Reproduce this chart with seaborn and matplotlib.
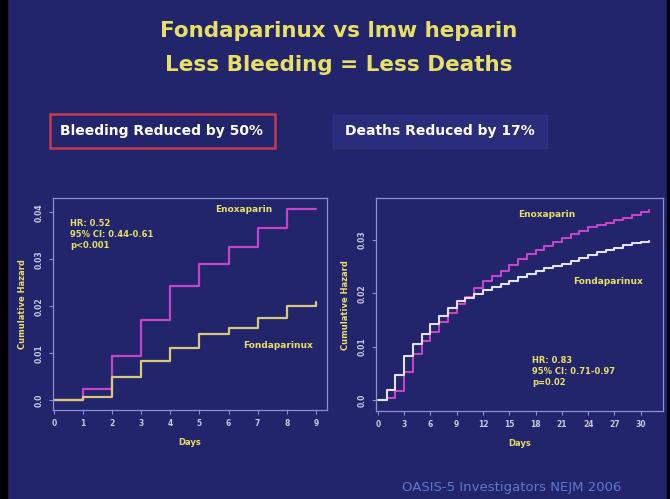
import numpy as np
import pandas as pd
import seaborn as sns
import matplotlib.pyplot as plt
from matplotlib.patches import Rectangle

# bleeding (left panel), daily steps
bleed_days = [0, 1, 2, 3, 4, 5, 6, 7, 8, 9]
bleed_enox = [0.0, 0.0025, 0.0095, 0.017, 0.0243, 0.029, 0.0325, 0.0366, 0.0406, 0.0406]
bleed_fonda = [0.0, 0.0007, 0.005, 0.0084, 0.0112, 0.014, 0.0154, 0.0175, 0.020, 0.021]

# deaths (right panel), daily steps
death_days = list(range(0, 32))
death_enox = [0.0, 0.0003, 0.0017, 0.0053, 0.0087, 0.011, 0.0128, 0.0146, 0.0164, 0.018, 0.0194,
              0.021, 0.0224, 0.0233, 0.0242, 0.0253, 0.0264, 0.0275, 0.0282, 0.029, 0.0297,
              0.0305, 0.0312, 0.0318, 0.0324, 0.0328, 0.0333, 0.0337, 0.0342, 0.0347, 0.0353, 0.0356]
death_fonda = [0.0, 0.0018, 0.0047, 0.0083, 0.0106, 0.0124, 0.0142, 0.0158, 0.0173, 0.0185, 0.0191,
               0.0199, 0.0206, 0.0212, 0.0218, 0.0224, 0.023, 0.0236, 0.0242, 0.0247, 0.0252,
               0.0256, 0.0261, 0.0267, 0.0273, 0.0277, 0.0282, 0.0286, 0.0291, 0.0294, 0.0296, 0.0298]

bleed_xticks = list(range(0, 10))
bleed_yticks = [0.0, 0.01, 0.02, 0.03, 0.04]
bleed_ylabels = ["0.0", "0.01", "0.02", "0.03", "0.04"]
death_xticks = list(range(0, 31, 3))
death_yticks = [0.0, 0.01, 0.02, 0.03]
death_ylabels = ["0.0", "0.01", "0.02", "0.03"]

BG = "#22246c"
SPINE = "#8c8fd6"
TICKTXT = "#c8c8e0"
YELLOW = "#e8e064"
MAGENTA = "#c445c8"

sns.set_style("dark")
plt.rcParams["font.family"] = ["DejaVu Sans"]

fig = plt.figure(figsize=(6.7, 4.99), dpi=100)
fig.patch.set_facecolor(BG)

# black border strips at left/right edges
fig.patches.append(Rectangle((0, 0), 7 / 670, 1, transform=fig.transFigure, color="black", zorder=0))
fig.patches.append(Rectangle((667 / 670, 0), 3 / 670, 1, transform=fig.transFigure, color="black", zorder=0))


def style_ax(ax):
    ax.set_facecolor(BG)
    ax.grid(False)
    for s in ax.spines.values():
        s.set_visible(True)
        s.set_color(SPINE)
        s.set_linewidth(0.9)
    ax.tick_params(axis="both", colors=SPINE, labelcolor=TICKTXT, labelsize=5.5,
                   length=3, width=0.8, direction="out", bottom=True, left=True)
    for lab in ax.get_yticklabels():
        lab.set_rotation(90)
        lab.set_va("center")
        lab.set_fontweight("bold")
    for lab in ax.get_xticklabels():
        lab.set_fontweight("bold")
    ax.set_xlabel("Days", color=YELLOW, fontsize=6, fontweight="bold", labelpad=7)
    ax.set_ylabel("Cumulative Hazard", color=YELLOW, fontsize=6, fontweight="bold", labelpad=6)


# left panel
bleed = pd.DataFrame({
    "day": bleed_days * 2,
    "hazard": bleed_enox + bleed_fonda,
    "drug": ["Enoxaparin"] * len(bleed_days) + ["Fondaparinux"] * len(bleed_days),
})
ax1 = fig.add_axes([0.079, 0.178, 0.409, 0.425])
sns.lineplot(data=bleed, x="day", y="hazard", hue="drug", ax=ax1, legend=False,
             palette={"Enoxaparin": MAGENTA, "Fondaparinux": "#d8c878"},
             drawstyle="steps-post", linewidth=1.6)
ax1.set_xlim(-0.03, 9.38)
ax1.set_ylim(-0.0021, 0.043)
ax1.set_xticks(bleed_xticks)
ax1.set_yticks(bleed_yticks)
ax1.set_yticklabels(bleed_ylabels)
style_ax(ax1)
ax1.text(0.55, 0.0385, "HR: 0.52\n95% CI: 0.44-0.61\np<0.001", color=YELLOW, fontsize=6,
         fontweight="bold", va="top", ha="left", linespacing=1.3)
ax1.text(5.55, 0.0405, "Enoxaparin", color=YELLOW, fontsize=6.5, fontweight="bold", va="center")
ax1.text(6.5, 0.0117, "Fondaparinux", color=YELLOW, fontsize=6.5, fontweight="bold", va="center")

# right panel
death = pd.DataFrame({
    "day": death_days * 2,
    "hazard": death_enox + death_fonda,
    "drug": ["Enoxaparin"] * len(death_days) + ["Fondaparinux"] * len(death_days),
})
ax2 = fig.add_axes([0.561, 0.176, 0.428, 0.427])
sns.lineplot(data=death, x="day", y="hazard", hue="drug", ax=ax2, legend=False,
             palette={"Enoxaparin": MAGENTA, "Fondaparinux": "#e4e2f8"},
             drawstyle="steps-post", linewidth=1.5)
ax2.set_xlim(-0.23, 32.5)
ax2.set_ylim(-0.0021, 0.0379)
ax2.set_xticks(death_xticks)
ax2.set_yticks(death_yticks)
ax2.set_yticklabels(death_ylabels)
style_ax(ax2)
ax2.text(16.0, 0.0349, "Enoxaparin", color=YELLOW, fontsize=6.5, fontweight="bold", va="center")
ax2.text(22.3, 0.0222, "Fondaparinux", color=YELLOW, fontsize=6.5, fontweight="bold", va="center")
ax2.text(17.6, 0.0083, "HR: 0.83\n95% CI: 0.71-0.97\np=0.02", color=YELLOW, fontsize=6,
         fontweight="bold", va="top", ha="left", linespacing=1.3)

# titles
fig.text(0.505, 1 - 31 / 499, "Fondaparinux vs lmw heparin", color=YELLOW, fontsize=15.5,
         fontweight="bold", ha="center", va="center")
fig.text(0.505, 1 - 65 / 499, "Less Bleeding = Less Deaths", color=YELLOW, fontsize=15.5,
         fontweight="bold", ha="center", va="center")

# subtitle boxes
fig.patches.append(Rectangle((50 / 670, 1 - 148 / 499), 225 / 670, 34 / 499, transform=fig.transFigure,
                             facecolor=BG, edgecolor="#c83a4c", linewidth=1.8))
fig.text(162 / 670, 1 - 131 / 499, "Bleeding Reduced by 50%", color="white", fontsize=10,
         fontweight="bold", ha="center", va="center")
fig.patches.append(Rectangle((333 / 670, 1 - 148 / 499), 214 / 670, 33 / 499, transform=fig.transFigure,
                             facecolor="#2a2d7c", edgecolor="#2e3180", linewidth=1))
fig.text(440 / 670, 1 - 131 / 499, "Deaths Reduced by 17%", color="white", fontsize=10,
         fontweight="bold", ha="center", va="center")

fig.text(512 / 670, 1 - 488 / 499, "OASIS-5 Investigators NEJM 2006", color="#5d78cc", fontsize=9.5,
         ha="center", va="center")

fig.savefig("out.png", dpi=100, facecolor=fig.get_facecolor())
